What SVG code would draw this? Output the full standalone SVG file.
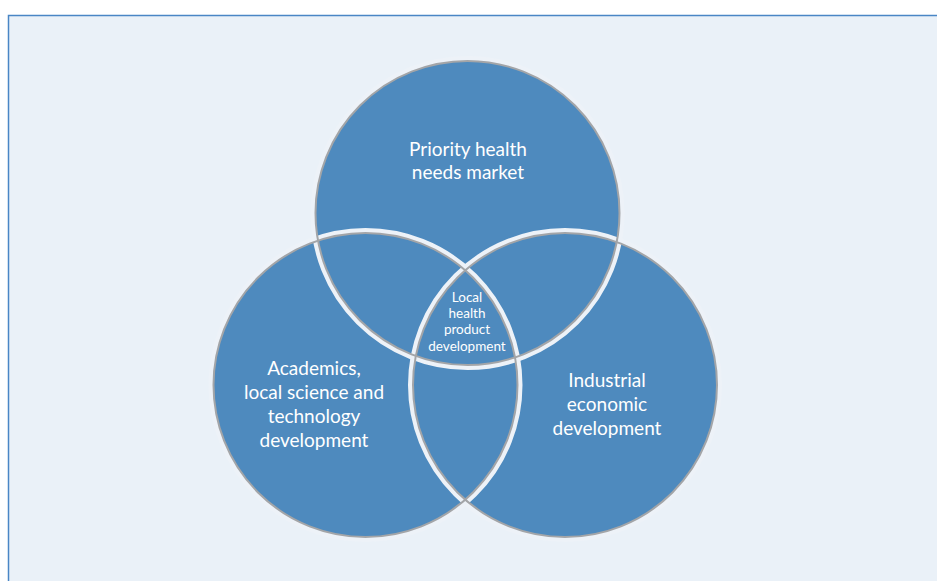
<svg xmlns="http://www.w3.org/2000/svg" width="937" height="581" viewBox="0 0 937 581">
  <style>
    .fill { fill: #4e8abe; stroke: none; }
    .band { fill: none; stroke: #edf2f8; stroke-width: 5; }
    .edge { fill: none; stroke: #a3a5a8; stroke-width: 2; }
    .lbl { fill: #ffffff; font-family: "Lato", "Liberation Sans", sans-serif; font-size: 19px; text-anchor: middle; }
    .small { font-size: 13.5px; }
  </style>
  <rect x="0" y="0" width="937" height="581" fill="#ffffff"/>
  <rect x="8.5" y="15.5" width="940" height="580" fill="#eaf1f8" stroke="#4a86c5" stroke-width="1.5"/>

  <g id="fills">
    <circle class="fill" cx="467.5" cy="213" r="152"/>
    <circle class="fill" cx="365.5" cy="385" r="152"/>
    <circle class="fill" cx="565" cy="385" r="152"/>
  </g>

  <g id="connectors">
    <circle class="band" cx="467.5" cy="213" r="154.5"/>
    <circle class="band" cx="365.5" cy="385" r="154.5"/>
    <circle class="band" cx="565" cy="385" r="154.5"/>
    <circle class="edge" cx="467.5" cy="213" r="152"/>
    <circle class="edge" cx="365.5" cy="385" r="152"/>
    <circle class="edge" cx="565" cy="385" r="152"/>
  </g>

  <g id="node-priority">
    <text class="lbl" x="468" y="156">Priority health</text>
    <text class="lbl" x="468" y="179">needs market</text>
  </g>
  <g id="node-academics">
    <text class="lbl" x="314" y="375">Academics,</text>
    <text class="lbl" x="314" y="399">local science and</text>
    <text class="lbl" x="314" y="423">technology</text>
    <text class="lbl" x="314" y="447">development</text>
  </g>
  <g id="node-industrial">
    <text class="lbl" x="607" y="387">Industrial</text>
    <text class="lbl" x="607" y="411">economic</text>
    <text class="lbl" x="607" y="435">development</text>
  </g>
  <g id="node-local">
    <text class="lbl small" x="467" y="302">Local</text>
    <text class="lbl small" x="467" y="318">health</text>
    <text class="lbl small" x="467" y="334">product</text>
    <text class="lbl small" x="467" y="351">development</text>
  </g>
</svg>
